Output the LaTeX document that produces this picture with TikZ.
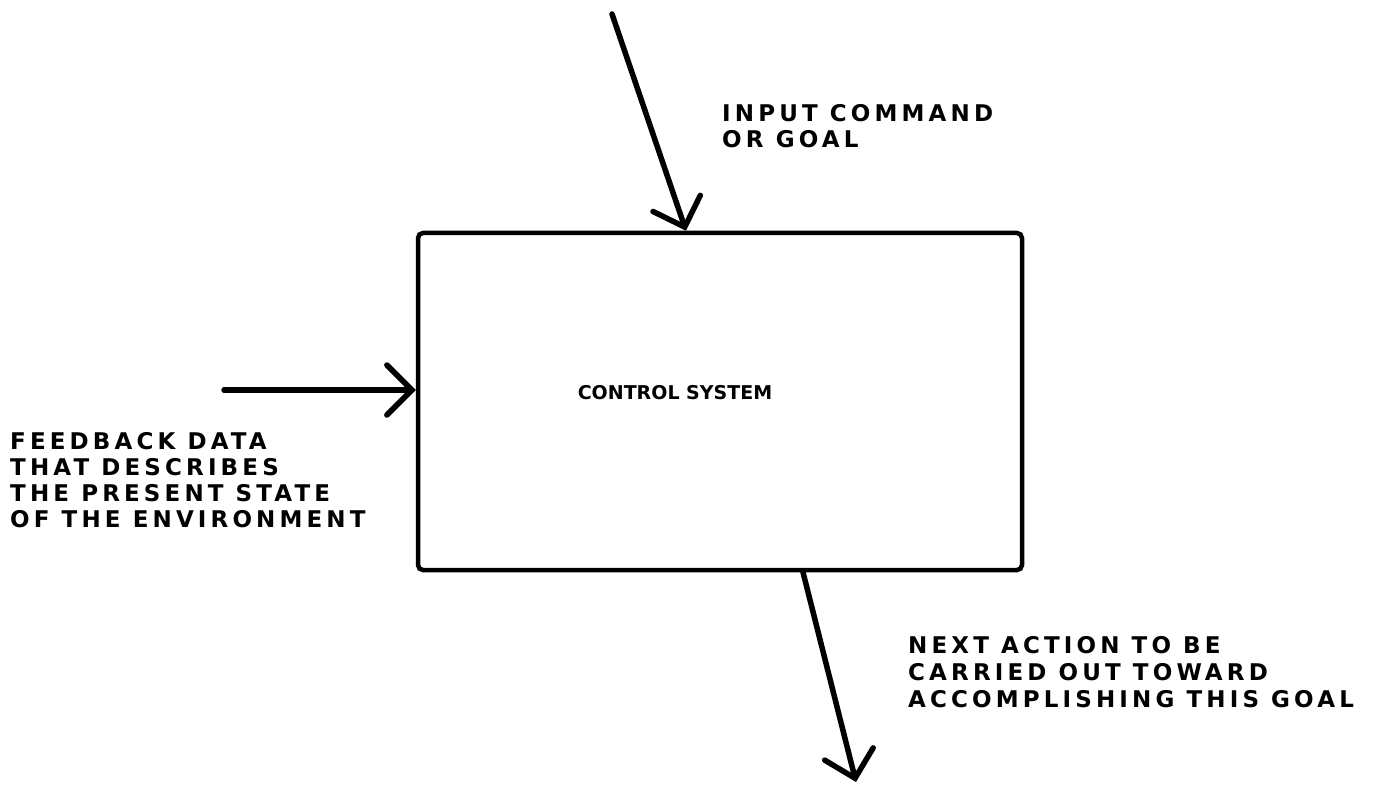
\documentclass[tikz,border=0pt]{standalone}
\usepackage{fontspec}
\newfontfamily\hand[LetterSpace=18]{DejaVu Sans Bold}
\newfontfamily\handsm{DejaVu Sans Bold}
\usetikzlibrary{arrows.meta}
\tikzset{
  sysbox/.style={draw, line width=4.5pt, rounded corners=5pt, minimum width=604pt, minimum height=337pt, inner sep=0pt},
  flow/.style={line width=5.5pt, line cap=round, -{Straight Barb[length=25pt, width=50pt, line width=5.5pt, line cap=round]}},
  lbl/.style={font=\hand\fontsize{23}{26}\selectfont, align=left, inner sep=0pt, anchor=north west},
}
\begin{document}
\begin{tikzpicture}[x=1pt, y=-1pt]
\useasboundingbox (0,0) rectangle (1376,786);
\node[sysbox] (sys) at (720,401.5) {};
\node[font=\handsm\fontsize{19}{22}\selectfont, inner sep=0pt] (name) at (675,393) {CONTROL SYSTEM};
\coordinate (instart) at (612,14);
\coordinate (fbstart) at (224,390);
\coordinate (outend) at (856,782);
\draw[flow] (instart) -- ([xshift=-34pt]sys.north);
\draw[flow] (fbstart) -- ([yshift=11.5pt]sys.west);
\draw[flow] ([xshift=83pt]sys.south) -- (outend);
\node[lbl] (inlbl) at (722,104) {INPUT COMMAND\\OR GOAL};
\node[lbl] (fblbl) at (10,432) {FEEDBACK DATA\\THAT DESCRIBES\\THE PRESENT STATE\\OF THE ENVIRONMENT};
\node[lbl, font=\hand\fontsize{23}{27}\selectfont] (outlbl) at (908,636) {NEXT ACTION TO BE\\CARRIED OUT TOWARD\\ACCOMPLISHING THIS GOAL};
\end{tikzpicture}
\end{document}
